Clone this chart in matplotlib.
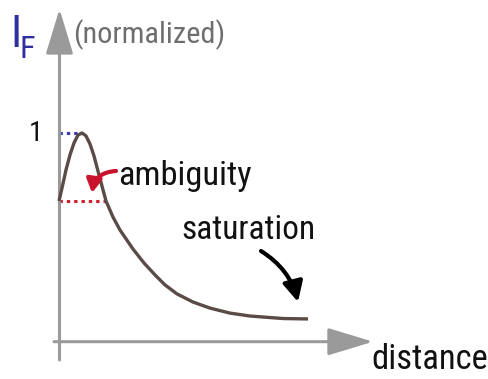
import matplotlib
matplotlib.use("Agg")
import matplotlib.pyplot as plt
import matplotlib.font_manager as fm

# ---- data (schematic curve: normalized intensity vs distance) ----
distance = [0.00, 0.03, 0.07, 0.11, 0.15, 0.19, 0.23, 0.27, 0.31, 0.35, 0.40,
            0.47, 0.54, 0.61, 0.74, 0.85, 0.96, 1.06, 1.18, 1.34, 1.51,
            1.71, 1.91, 2.24, 2.49]
intensity = [0.674, 0.736, 0.823, 0.895, 0.952, 0.990, 1.000, 0.986, 0.947, 0.890, 0.799,
             0.674, 0.597, 0.535, 0.444, 0.377, 0.320, 0.272, 0.229, 0.190, 0.161,
             0.137, 0.123, 0.111, 0.109]
peak_x, peak_y = 0.21, 1.0
ambig_x, ambig_y = 0.48, 0.674
tick_label = "1"

W, H, DPI = 488, 379, 100
fig = plt.figure(figsize=(W / DPI, H / DPI), dpi=DPI)
ax = fig.add_axes([0, 0, 1, 1])
ax.set_xlim(-0.59, 4.29)
ax.set_ylim(-0.1787, 1.637)
ax.axis("off")

def px(x, y):
    """pixel position -> data position (for text / annotation placement)"""
    return ((x - 59) / 100.0, (341.7 - y) / 208.7)

# pick a condensed sans font if one is installed
names = {f.name for f in fm.fontManager.ttflist}
cond = None
for cand in ["Liberation Sans Narrow", "Roboto Condensed", "Open Sans Condensed",
             "DejaVu Sans Condensed", "Noto Sans Condensed"]:
    if cand in names:
        cond = cand
        break
stretch = "normal"
if cond is None:
    for f in fm.fontManager.ttflist:
        if f.stretch in ("condensed", "semi-condensed", "extra-condensed") and "Sans" in f.name:
            cond = f.name
            stretch = f.stretch
            break
font = [cond, "DejaVu Sans"] if cond else ["DejaVu Sans"]

axis_col = "#9a9a9a"

# axes with arrowheads
ax.annotate("", xy=px(373, 341.7), xytext=px(54, 341.7),
            arrowprops=dict(arrowstyle="-|>,head_length=28,head_width=8.5",
                            mutation_scale=1, lw=2.2, color=axis_col,
                            shrinkA=0, shrinkB=0))
ax.annotate("", xy=px(59.5, 9), xytext=px(59.5, 360),
            arrowprops=dict(arrowstyle="-|>,head_length=28,head_width=8.5",
                            mutation_scale=1, lw=2.2, color=axis_col,
                            shrinkA=0, shrinkB=0))

# main curve
ax.plot(distance, intensity, color="#5a4b46", lw=2.4, solid_capstyle="butt",
        solid_joinstyle="round", zorder=3)

# dotted guide lines
ax.plot([0, peak_x], [peak_y, peak_y], color="#3b3bb8", lw=2.2,
        dashes=(1.1, 1.3), zorder=2)
ax.plot([0, ambig_x], [ambig_y, ambig_y], color="#d0202e", lw=2.2,
        dashes=(1.1, 1.3), zorder=2)

renderer = fig.canvas.get_renderer()

def fit_text(x, y, s, width, maxsize, color, ha="center", boost=1.0):
    t = ax.text(*px(x, y), s, fontsize=maxsize, family=font, fontstretch=stretch,
                ha=ha, va="center", color=color)
    for _ in range(2):
        w = t.get_window_extent(renderer).width
        if w > width:
            t.set_fontsize(t.get_fontsize() * width / w)
    t.set_fontsize(t.get_fontsize() * boost)
    return t

fit_text(36, 134, tick_label, 14, 23, "#111111")
fit_text(185, 176, "ambiguity", 126, 30, "#111111", boost=1.06)
fit_text(248.5, 230, "saturation", 127, 30, "#111111", boost=1.06)
fit_text(430, 359, "distance", 110, 30, "#111111", boost=1.06)
fit_text(149.5, 35, "(normalized)", 146, 26, "#6e6e6e", boost=1.04)
ax.text(*px(15.5, 35), "I", fontsize=32, family=font, fontstretch=stretch,
        ha="center", va="center", color="#2e2e9e")
ax.text(*px(27.5, 50), "F", fontsize=23, family=font, fontstretch=stretch,
        ha="center", va="center", color="#2e2e9e")

# curved arrows
ax.annotate("", xy=px(92, 193), xytext=px(116, 171),
            arrowprops=dict(arrowstyle="-|>,head_length=8,head_width=4.5",
                            mutation_scale=1, lw=3.0, color="#c8142c",
                            connectionstyle="arc3,rad=0.4", shrinkA=0, shrinkB=0))
ax.annotate("", xy=px(298, 302), xytext=px(261, 251),
            arrowprops=dict(arrowstyle="-|>,head_length=12,head_width=6",
                            mutation_scale=1, lw=3.0, color="#000000",
                            connectionstyle="arc3,rad=-0.2", shrinkA=0, shrinkB=0))

fig.savefig("out.png", dpi=DPI)
